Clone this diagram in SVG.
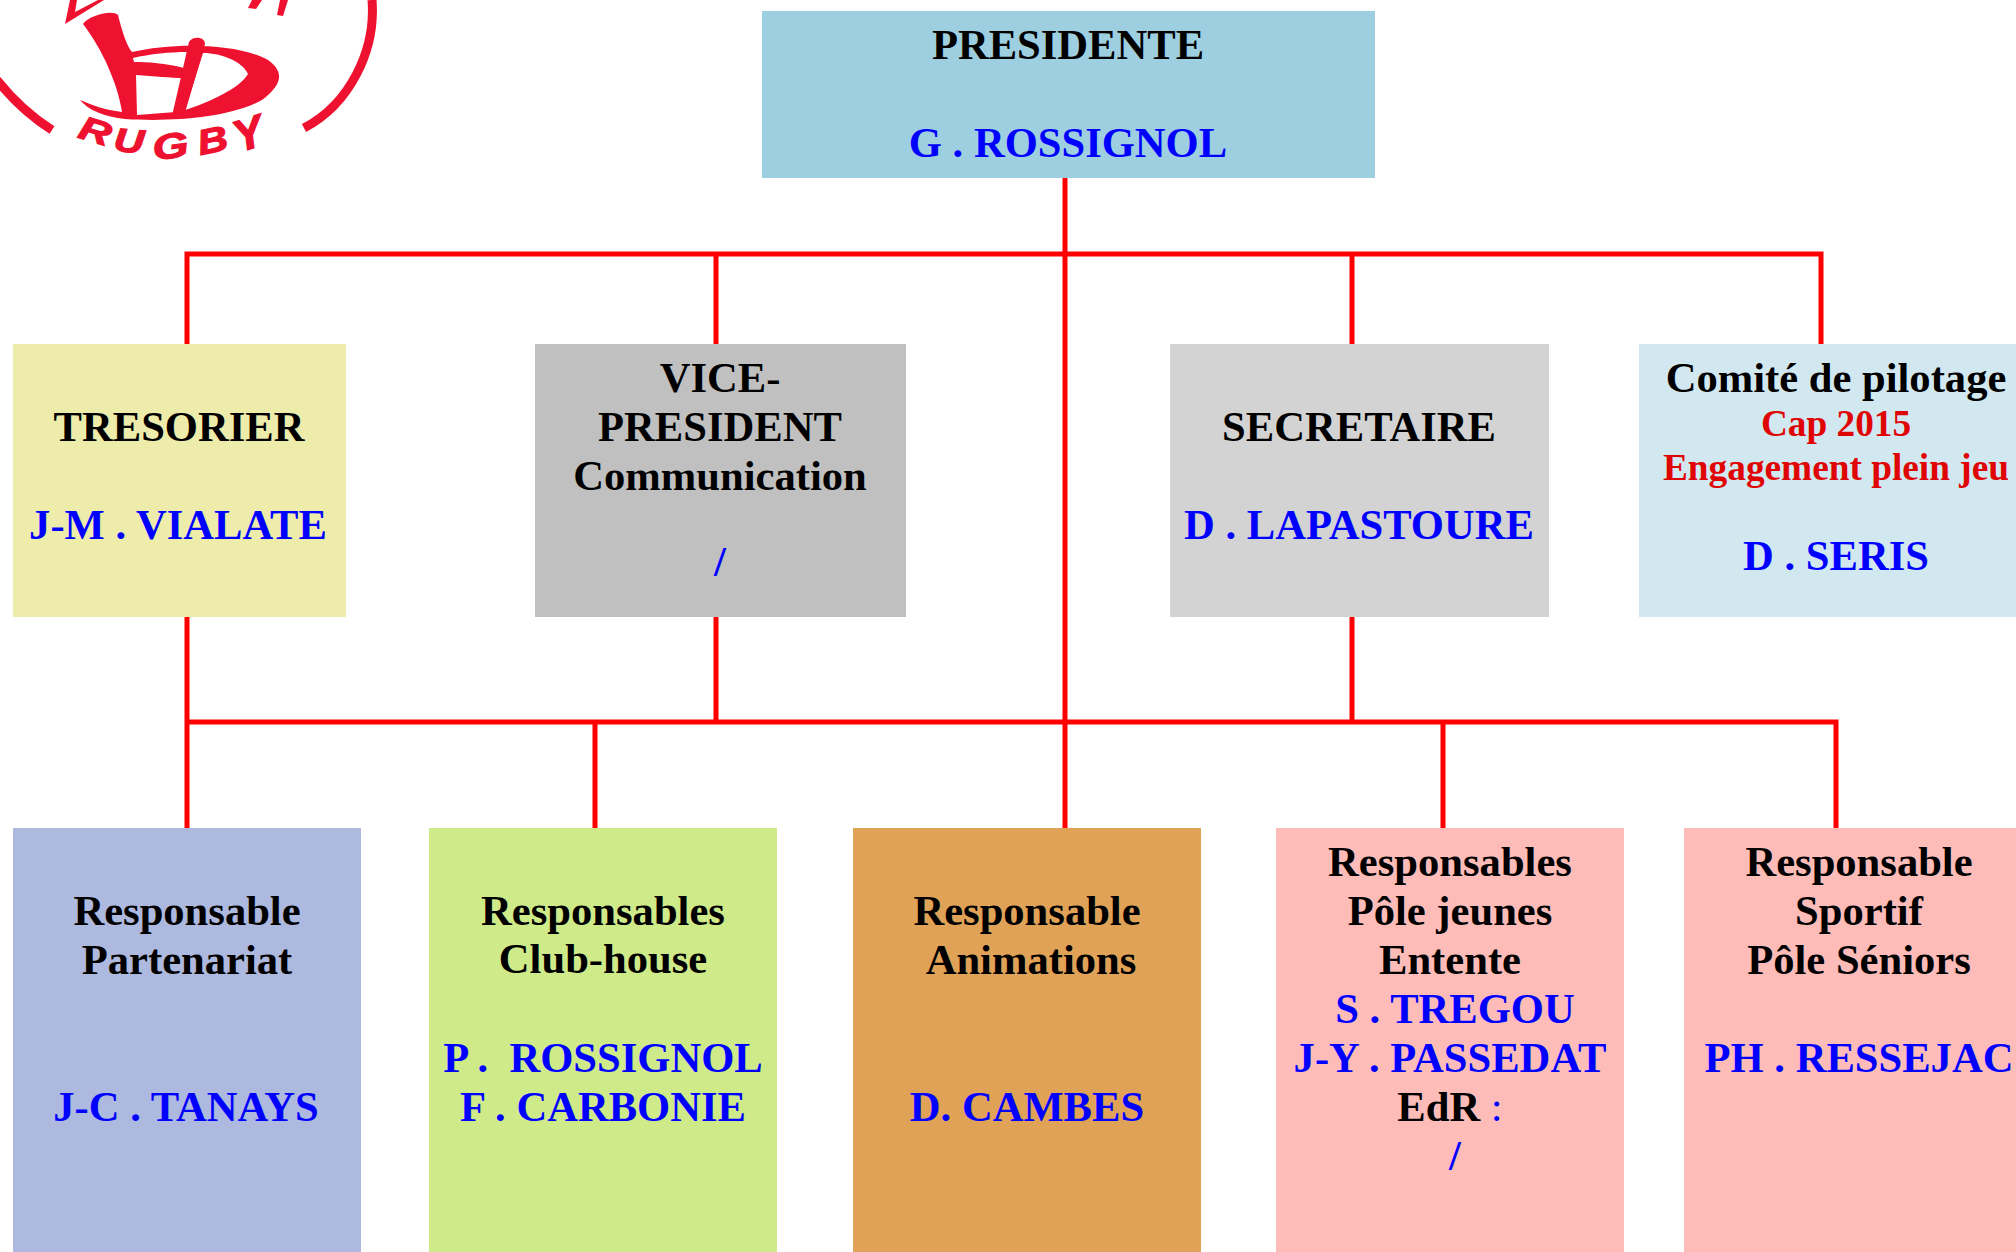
<svg xmlns="http://www.w3.org/2000/svg" width="2016" height="1252" viewBox="0 0 2016 1252">
<style>
text{font-family:"Liberation Serif","Times New Roman",serif;font-weight:700;font-size:42.6px;text-anchor:middle;fill:#000}
.b{fill:#0000ff}
.r{fill:#e00505;font-size:37.3px}
.c{stroke:#ff0000;stroke-width:5;fill:none}
.l{fill:#ee1230}
.ls{fill:none;stroke:#ee1230;stroke-linecap:butt}
.g{font-family:"Liberation Sans",sans-serif;font-style:italic;font-size:44px;fill:#ee1230;stroke:#ee1230;stroke-width:1.5}
</style>
<rect width="2016" height="1252" fill="#fff"/>
<g id="logo">
<path class="ls" stroke-width="9" d="M-3 80C13 100 30 116 52 130"/>
<path class="ls" stroke-width="9" d="M304 128C350 104 376 50 372 0"/>
<path class="l" d="M83 24C88 16 112 9 118 15C123 35 128 48 132 52C170 43 235 42 268 60C285 72 282 85 262 100C230 118 170 122 125 119C105 117 88 110 80 100C92 105 105 110 122 112C118 85 103 50 83 24Z"/>
<path fill="#fff" d="M133 58C150 54 170 52 187 52L184 68C165 63 148 62 134 62Z M136 75C155 76 170 78 183 78L176 112C163 113 150 114 137 115Z M203 53C222 53 243 62 248 74C240 88 210 102 185 110Z"/>
<path class="l" d="M189 42C192 36 205 36 205 44L184 116L172 116Z"/>
<path class="l" d="M65 24L70 0L77 0L75 12L98 0L104 0Z"/>
<path class="l" d="M277 15L280 0L288 0L283 16Z"/>
<path class="l" d="M248 8L252 0L262 0L256 9Z"/>
<text class="g" transform="translate(92 142) rotate(17) scale(1 .75)">R</text>
<text class="g" transform="translate(128 152) rotate(5) scale(.95 .75)">U</text>
<text class="g" transform="translate(172 158) rotate(-8) scale(1.05 .8)">G</text>
<text class="g" transform="translate(215 152) rotate(-12) scale(.95 .8)">B</text>
<text class="g" transform="translate(253 148) rotate(-18) scale(1 1)">Y</text>
</g>
<g id="connectors">
<path class="c" d="M1065 177V828"/>
<path class="c" d="M187 344V254H1821V344"/>
<path class="c" d="M716 254V344M1352 254V344"/>
<path class="c" d="M187 617V828M187 722H1836V828"/>
<path class="c" d="M716 617V722M1352 617V722M595 722V828M1443 722V828"/>
</g>
<g id="presidente"><rect x="762" y="11" width="613" height="167" fill="#9ecfe1"/>
<text x="1068" y="59">PRESIDENTE</text><text class="b" x="1068" y="157">G . ROSSIGNOL</text></g>
<g id="tresorier"><rect x="13" y="344" width="333" height="273" fill="#eeecaa"/>
<text x="179" y="441">TRESORIER</text><text class="b" x="178" y="539">J-M . VIALATE</text></g>
<g id="vice-president"><rect x="535" y="344" width="371" height="273" fill="#c0c0c0"/>
<text x="720" y="392">VICE-</text><text x="720" y="441">PRESIDENT</text><text x="720" y="490">Communication</text><text class="b" x="720" y="576">/</text></g>
<g id="secretaire"><rect x="1170" y="344" width="379" height="273" fill="#d3d3d3"/>
<text x="1359" y="441">SECRETAIRE</text><text class="b" x="1359" y="539">D . LAPASTOURE</text></g>
<g id="comite"><rect x="1639" y="344" width="377" height="273" fill="#d2e8f1"/>
<text x="1836" y="392">Comité de pilotage</text><text class="r" x="1836" y="436">Cap 2015</text><text class="r" x="1836" y="480">Engagement plein jeu</text><text class="b" x="1836" y="570">D . SERIS</text></g>
<g id="partenariat"><rect x="13" y="828" width="348" height="424" fill="#adb9de"/>
<text x="187" y="925">Responsable</text><text x="187" y="974">Partenariat</text><text class="b" x="186" y="1121">J-C . TANAYS</text></g>
<g id="club-house"><rect x="429" y="828" width="348" height="424" fill="#cfea89"/>
<text x="603" y="925">Responsables</text><text x="603" y="973">Club-house</text><text class="b" x="603" y="1072" xml:space="preserve">P .  ROSSIGNOL</text><text class="b" x="603" y="1121">F . CARBONIE</text></g>
<g id="animations"><rect x="853" y="828" width="348" height="424" fill="#e0a256"/>
<text x="1027" y="925">Responsable</text><text x="1031" y="974">Animations</text><text class="b" x="1027" y="1121">D. CAMBES</text></g>
<g id="pole-jeunes"><rect x="1276" y="828" width="348" height="424" fill="#febcb8"/>
<text x="1450" y="876">Responsables</text><text x="1450" y="925">Pôle jeunes</text><text x="1450" y="974">Entente</text><text class="b" x="1455" y="1023">S . TREGOU</text><text class="b" x="1450" y="1072">J-Y . PASSEDAT</text><text x="1450" y="1121">EdR <tspan class="b" font-weight="400">:</tspan></text><text class="b" x="1455" y="1170">/</text></g>
<g id="pole-seniors"><rect x="1684" y="828" width="332" height="424" fill="#febcb8"/>
<text x="1859" y="876">Responsable</text><text x="1859" y="925">Sportif</text><text x="1859" y="974">Pôle Séniors</text><text class="b" x="1859" y="1072">PH . RESSEJAC</text></g>
</svg>
